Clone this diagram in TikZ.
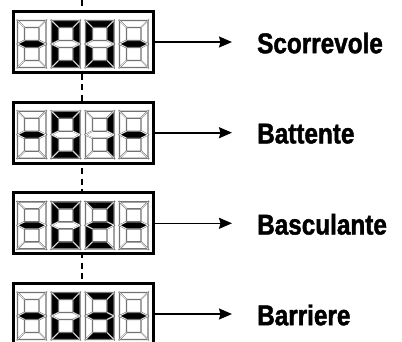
\documentclass[tikz,border=0pt]{standalone}
\usepackage{fontspec}
\setmainfont[FakeStretch=0.85, BoldFeatures={FakeBold=1.5}]{Liberation Sans}
\usetikzlibrary{arrows.meta}
\colorlet{S1}{black}
\colorlet{S0}{white}
\tikzset{
 dispbox/.style={draw=black, line width=3.2pt, fill=white, minimum width=140pt, minimum height=61pt, inner sep=0pt, outer sep=0pt},
 lbl/.style={anchor=west, inner sep=0pt, font=\bfseries\fontsize{28.6}{30}\selectfont},
 arr/.style={line width=1.6pt, -{Stealth[length=13pt,width=11pt,inset=1.5pt]}, shorten >=25pt},
 seg/.style={draw=black!55, line width=1.4pt, line join=miter},
 sepln/.style={draw=white, line width=0.6pt},
 dashln/.style={line width=1.4pt, dash pattern=on 6pt off 4.5pt},
}
\newcommand\sevseg[9]{%
\begin{scope}[shift={(#1,#2)}]
\path[seg,fill=S#3] (0,0)--(28.5,0)--(21.5,7)--(7,7)--cycle;
\path[seg,fill=S#4] (28.5,0)--(28.5,23.5)--(21.5,20)--(21.5,7)--cycle;
\path[seg,fill=S#5] (28.5,23.5)--(28.5,47)--(21.5,40)--(21.5,27)--cycle;
\path[seg,fill=S#6] (0,47)--(28.5,47)--(21.5,40)--(7,40)--cycle;
\path[seg,fill=S#7] (0,23.5)--(7,27)--(7,40)--(0,47)--cycle;
\path[seg,fill=S#8] (0,0)--(7,7)--(7,20)--(0,23.5)--cycle;
\path[seg,fill=S#9] (0,23.5)--(7,20)--(21.5,20)--(28.5,23.5)--(21.5,27)--(7,27)--cycle;
\path[sepln] (0,0)--(7,7) (28.5,0)--(21.5,7) (0,47)--(7,40) (28.5,47)--(21.5,40)
  (0,23.5)--(7,20) (0,23.5)--(7,27) (28.5,23.5)--(21.5,20) (28.5,23.5)--(21.5,27);
\end{scope}}
\newcommand\dispdigits[2]{% #1 = y of digit tops, #2 = third digit segments a..g
\sevseg{17.5}{#1}0000001
\sevseg{51.5}{#1}1111110
\sevseg{85.5}{#1}#2
\sevseg{119.5}{#1}0000001
}
\begin{document}
\begin{tikzpicture}[x=1pt,y=-1pt]
\clip (0,0) rectangle (402,341);
\fill[white] (0,0) rectangle (402,341);
\coordinate (dtop) at (82,0);
\coordinate (dbot) at (82,290);
\draw[dashln] (dtop) -- (dbot);

\node[dispbox] (d1) at (83.5,42) {};
\node[dispbox] (d2) at (83.5,132.7) {};
\node[dispbox] (d3) at (83.5,223.3) {};
\node[dispbox] (d4) at (83.5,314) {};

\dispdigits{20.5}{1111110}
\dispdigits{111.2}{0110000}
\dispdigits{201.8}{1101101}
\dispdigits{292.5}{1111001}

\node[lbl] (l1) at (257,43) {Scorrevole};
\node[lbl] (l2) at (257,133.7) {Battente};
\node[lbl] (l3) at (257,224.3) {Basculante};
\node[lbl] (l4) at (257,315) {Barriere};

\draw[arr] (d1.east) -- (d1.east -| l1.west);
\draw[arr] (d2.east) -- (d2.east -| l2.west);
\draw[arr] (d3.east) -- (d3.east -| l3.west);
\draw[arr] (d4.east) -- (d4.east -| l4.west);
\end{tikzpicture}
\end{document}
